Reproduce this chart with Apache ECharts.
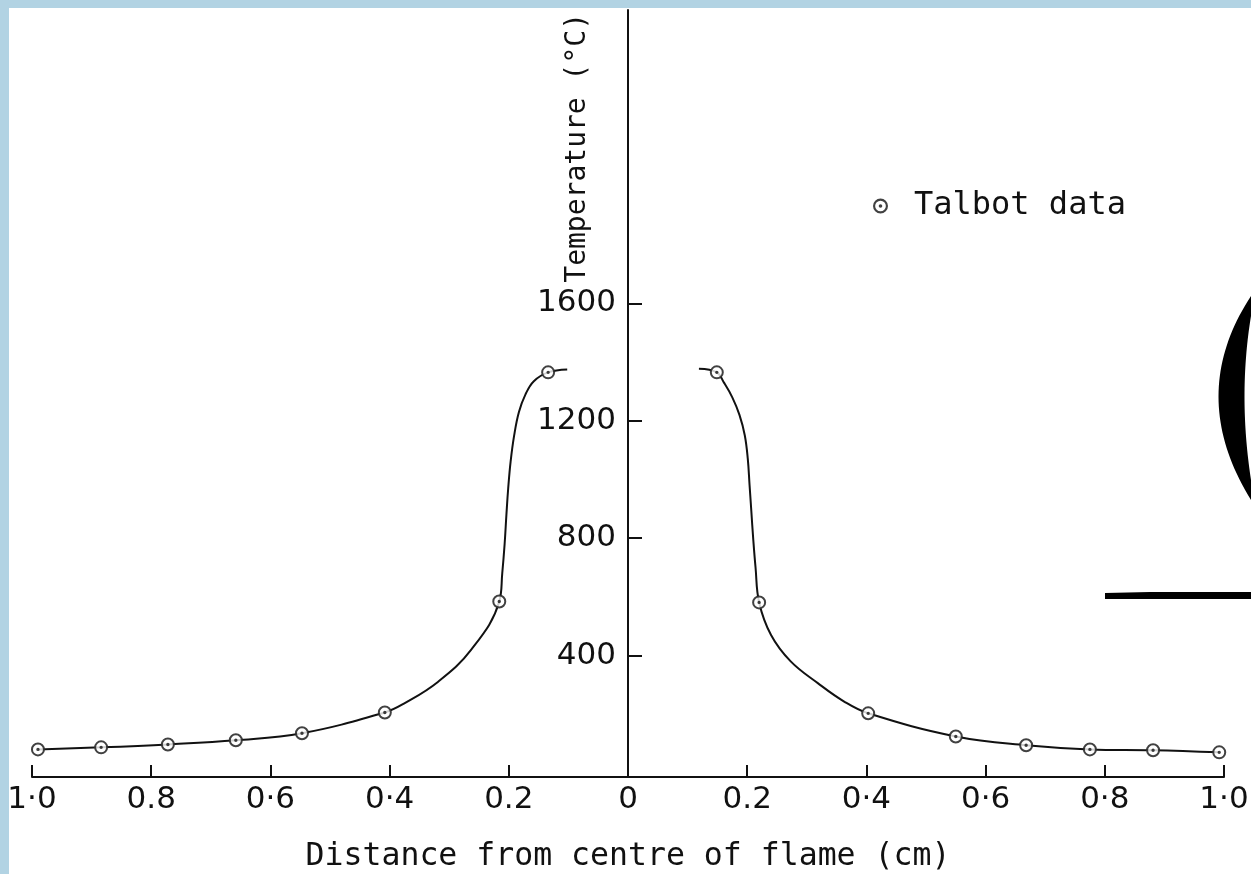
<!DOCTYPE html>
<html><head><meta charset="utf-8">
<script src="https://cdn.jsdelivr.net/npm/echarts@6/dist/echarts.min.js"></script>
<style>
html,body{margin:0;padding:0;width:1251px;height:874px;overflow:hidden;background:#b2d3e3;}
#paper{position:absolute;left:9px;top:8px;right:0;bottom:0;background:#fff;}
#chart{position:absolute;left:0;top:0;width:1251px;height:874px;}
</style></head><body><div id="paper"></div><div id="chart"></div>
<script>
// Talbot data points (distance from centre in cm, negative = left side; temperature °C)
const talbotX = [-0.99, -0.884, -0.772, -0.658, -0.547, -0.408, -0.216, -0.134, 0.149, 0.220, 0.403, 0.550, 0.668, 0.775, 0.881, 0.992];
const talbotT = [80, 87, 97, 111, 135, 206, 584, 1365, 1365, 581, 203, 124, 94, 80, 77, 70];

// Fitted curve, left branch
const curveLeftX = [-0.99, -0.884, -0.772, -0.658, -0.547, -0.408, -0.376, -0.319, -0.263, -0.216, -0.211, -0.207, -0.204, -0.201, -0.197, -0.191, -0.183, -0.172, -0.158, -0.134, -0.102];
const curveLeftT = [80, 87, 97, 111, 135, 206, 236, 310, 420, 584, 680, 780, 880, 970, 1060, 1150, 1230, 1290, 1335, 1365, 1375];

// Fitted curve, right branch
const curveRightX = [0.119, 0.149, 0.161, 0.175, 0.187, 0.196, 0.201, 0.204, 0.207, 0.210, 0.214, 0.220, 0.240, 0.273, 0.319, 0.362, 0.403, 0.550, 0.668, 0.775, 0.881, 0.992];
const curveRightT = [1377, 1365, 1330, 1280, 1220, 1150, 1070, 980, 890, 800, 700, 581, 470, 380, 305, 244, 203, 124, 94, 80, 77, 70];

// Tick labels
const xTickLabels = ['1·0', '0.8', '0·6', '0·4', '0.2', '0', '0.2', '0·4', '0·6', '0·8', '1·0'];
const yTickValues = [400, 800, 1200, 1600];

const zip = (xs, ys) => xs.map((x, i) => [x, ys[i]]);
const INK = '#111';
const RING = 'path://M0 -7A7 7 0 1 1 0 7A7 7 0 1 1 0 -7ZM0 -5A5 5 0 1 0 0 5A5 5 0 1 0 0 -5ZM0 -1.7A1.7 1.7 0 1 1 0 1.7A1.7 1.7 0 1 1 0 -1.7Z';

// decorative crescent at the right edge (scan artefact of neighbouring figure)
function quad(p0, c, p1, n) {
  const pts = [];
  for (let i = 0; i <= n; i++) {
    const t = i / n, u = 1 - t;
    pts.push([u*u*p0[0] + 2*u*t*c[0] + t*t*p1[0], u*u*p0[1] + 2*u*t*c[1] + t*t*p1[1]]);
  }
  return pts;
}
const crescent = quad([1251, 296], [1186, 395], [1251, 500], 40).concat(quad([1251, 480], [1238, 395], [1251, 316], 40));

const GRID_LEFT = 32, GRID_RIGHT = 27;
const plotWidth = 1251 - GRID_LEFT - GRID_RIGHT;

const chart = echarts.init(document.getElementById('chart'), null, {renderer: 'canvas'});
chart.setOption({
  animation: false,
  backgroundColor: 'transparent',
  grid: {left: GRID_LEFT, right: GRID_RIGHT, top: 10, bottom: 97, containLabel: false, outerBoundsMode: 'none'},
  legend: {
    data: ['Talbot data'],
    left: 873, top: 190, padding: 0,
    itemWidth: 15, itemHeight: 15,
    textStyle: {fontFamily: 'DejaVu Sans Mono', fontSize: 32, color: INK, lineHeight: 32, padding: [0, 0, 0, 21]}
  },
  xAxis: {
    type: 'value', min: -1, max: 1, interval: 0.2,
    name: 'Distance from centre of flame (cm)',
    nameLocation: 'middle', nameGap: 64,
    nameTextStyle: {fontFamily: 'DejaVu Sans Mono', fontSize: 31.5, color: INK},
    axisLine: {onZero: false, lineStyle: {color: INK, width: 2}},
    axisTick: {inside: true, length: 12, lineStyle: {color: INK, width: 2}},
    axisLabel: {
      margin: 7, color: INK, fontFamily: 'DejaVu Sans', fontSize: 31,
      formatter: v => { const i = Math.round((v + 1) / 0.2); return xTickLabels[i] ?? ''; }
    },
    splitLine: {show: false}
  },
  yAxis: {
    type: 'value', min: -14, max: 2600,
    position: 'left', offset: -plotWidth / 2,
    name: 'Temperature (°C)',
    nameLocation: 'end', nameRotate: 90, nameGap: -3,
    nameTextStyle: {fontFamily: 'DejaVu Sans Mono', fontSize: 28, color: INK, align: 'right', verticalAlign: 'bottom', lineHeight: 100},
    axisLine: {onZero: false, lineStyle: {color: INK, width: 2}},
    axisTick: {inside: true, length: 14, customValues: yTickValues, lineStyle: {color: INK, width: 2}},
    axisLabel: {margin: 12, color: INK, fontFamily: 'DejaVu Sans', fontSize: 31, customValues: yTickValues, formatter: v => String(v)},
    splitLine: {show: false}
  },
  graphic: [
    {type: 'polygon', z: 100, shape: {points: [[1105, 593], [1150, 592], [1251, 592], [1251, 599], [1105, 599]]}, style: {fill: '#000'}},
    {type: 'polygon', z: 100, shape: {points: crescent}, style: {fill: '#000'}}
  ],
  series: [
    {type: 'line', name: 'curve-left', data: zip(curveLeftX, curveLeftT), showSymbol: false, smooth: 0.4, lineStyle: {color: INK, width: 2}, z: 2, silent: true},
    {type: 'line', name: 'curve-right', data: zip(curveRightX, curveRightT), showSymbol: false, smooth: 0.4, lineStyle: {color: INK, width: 2}, z: 2, silent: true},
    {type: 'scatter', name: 'marker-fill', data: zip(talbotX, talbotT), symbol: 'circle', symbolSize: 13, itemStyle: {color: '#fff'}, z: 3, silent: true},
    {type: 'scatter', name: 'Talbot data', data: zip(talbotX, talbotT), symbol: RING, symbolSize: 14, itemStyle: {color: INK}, z: 4}
  ]
});
</script></body></html>
